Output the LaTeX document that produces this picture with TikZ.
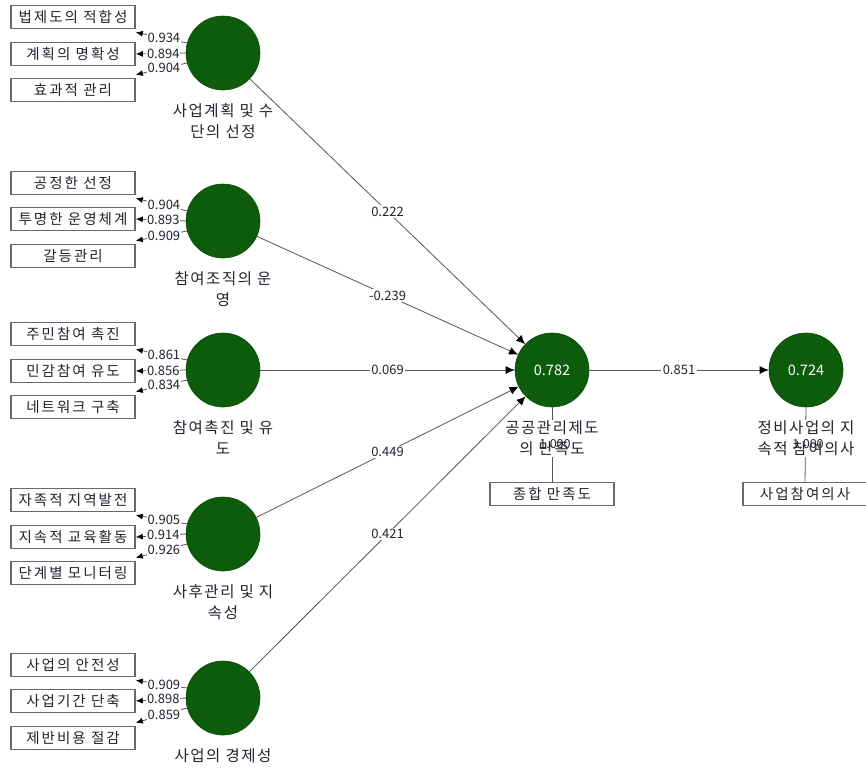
\documentclass[tikz,border=0pt]{standalone}
\usepackage{fontspec}
\setmainfont{Noto Sans CJK KR}
\newfontfamily\wide[LetterSpace=14]{Noto Sans CJK KR}
\newfontfamily\widelab[LetterSpace=10]{Noto Sans CJK KR}
\usetikzlibrary{arrows.meta,calc}
\definecolor{lvgreen}{RGB}{12,92,12}
\definecolor{boxline}{RGB}{105,105,105}
\definecolor{edgecol}{RGB}{85,85,85}
\definecolor{txtcol}{RGB}{35,35,45}
\tikzset{
  lv/.style={circle,fill=lvgreen,draw=lvgreen!80!black,line width=0.6pt,minimum size=74pt,inner sep=0pt,text=white!92,font=\fontsize{14.5}{14.5}\selectfont},
  mv/.style={rectangle,draw=boxline,line width=1.6pt,minimum width=124pt,minimum height=23pt,inner sep=0pt,fill=white,text=txtcol,font=\wide\fontsize{14.5}{14.5}\selectfont},
  lvlabel/.style={align=center,text=txtcol,font=\widelab\fontsize{15.5}{21}\selectfont,inner sep=1pt},
  ld/.style={draw=edgecol,line width=0.8pt,-{Latex[length=7pt,width=6pt,color=black]}},
  pth/.style={draw=edgecol,line width=0.8pt,-{Latex[length=9pt,width=8pt,color=black]}},
  ldlab/.style={fill=white,inner sep=0.6pt,text=txtcol,font=\fontsize{13}{13}\selectfont},
  pthlab/.style={fill=white,inner sep=1.5pt,text=txtcol,font=\fontsize{13}{13}\selectfont},
  wlab/.style={text=txtcol,font=\fontsize{12.5}{12.5}\selectfont,inner sep=0pt},
}
\begin{document}
\begin{tikzpicture}[x=1pt,y=-1pt]
\useasboundingbox (0,0) rectangle (866,769);
% latent variables
\node[lv] (c1) at (223,53) {};
\node[lv] (c2) at (223,221) {};
\node[lv] (c3) at (223,370) {};
\node[lv] (c4) at (223,534) {};
\node[lv] (c5) at (223,698) {};
\node[lv] (cm) at (552,370) {0.782};
\node[lv] (cr) at (806,370) {0.724};
% indicators
\node[mv] (i11) at (73,17) {법제도의 적합성};
\node[mv] (i12) at (73,54) {계획의 명확성};
\node[mv] (i13) at (73,90) {효과적 관리};
\node[mv] (i21) at (73,183) {공정한 선정};
\node[mv] (i22) at (73,219) {투명한 운영체계};
\node[mv] (i23) at (73,256) {갈등관리};
\node[mv] (i31) at (73,334) {주민참여 촉진};
\node[mv] (i32) at (73,371) {민감참여 유도};
\node[mv] (i33) at (73,407) {네트워크 구축};
\node[mv] (i41) at (73,500) {자족적 지역발전};
\node[mv] (i42) at (73,537) {지속적 교육활동};
\node[mv] (i43) at (73,573) {단계별 모니터링};
\node[mv] (i51) at (73,665) {사업의 안전성};
\node[mv] (i52) at (73,701) {사업기간 단축};
\node[mv] (i53) at (73,738) {제반비용 절감};
\node[mv] (im) at (552,494) {종합 만족도};
\node[mv] (ir) at (805,494) {사업참여의사};
% loadings
\foreach \c/\a/\b/\cc/\la/\lb/\lc in {c1/i11/i12/i13/0.934/0.894/0.904,
  c2/i21/i22/i23/0.904/0.893/0.909,
  c3/i31/i32/i33/0.861/0.856/0.834,
  c4/i41/i42/i43/0.905/0.914/0.926,
  c5/i51/i52/i53/0.909/0.898/0.859}{
  \draw[ld] ($(\c.center)+(-36,-10)$) -- node[ldlab,pos=0.45]{\la} ($(\a.south east)+(0,3)$);
  \draw[ld] (\c.west) -- node[ldlab,pos=0.45]{\lb} (\b.east);
  \draw[ld] ($(\c.center)+(-36,10)$) -- node[ldlab,pos=0.45]{\lc} ($(\cc.north east)+(0,-3)$);
}
% structural paths
\draw[pth] (c1) -- node[pthlab]{0.222} (cm);
\draw[pth] (c2) -- node[pthlab]{-0.239} (cm);
\draw[pth] (c3) -- node[pthlab]{0.069} (cm);
\draw[pth] (c4) -- node[pthlab]{0.449} (cm);
\draw[pth] (c5) -- node[pthlab]{0.421} (cm);
\draw[pth] (cm) -- node[pthlab]{0.851} (cr);
% single indicator lines
\draw[draw=edgecol,line width=0.8pt] (cm.south) -- (im.north);
\draw[draw=edgecol,line width=0.8pt] (cr.south) -- (ir.north);
% latent labels
\node[lvlabel,anchor=north] (l1) at ($(c1.south)+(0,12)$) {사업계획 및 수\\단의 선정};
\node[lvlabel,anchor=north] (l2) at ($(c2.south)+(0,12)$) {참여조직의 운\\영};
\node[lvlabel,anchor=north] (l3) at ($(c3.south)+(0,12)$) {참여촉진 및 유\\도};
\node[lvlabel,anchor=north] (l4) at ($(c4.south)+(0,12)$) {사후관리 및 지\\속성};
\node[lvlabel,anchor=north] (l5) at ($(c5.south)+(0,12)$) {사업의 경제성};
\node[lvlabel,anchor=north,fill=white] (lm) at ($(cm.south)+(0,12)$) {공공관리제도\\의 만족도};
\node[lvlabel,anchor=north,fill=white] (lr) at ($(cr.south)+(0,12)$) {정비사업의 지\\속적 참여의사};
\node[wlab] (w1) at (555,444) {1.000};
\node[wlab] (w2) at (808,444) {1.000};
\end{tikzpicture}
\end{document}
